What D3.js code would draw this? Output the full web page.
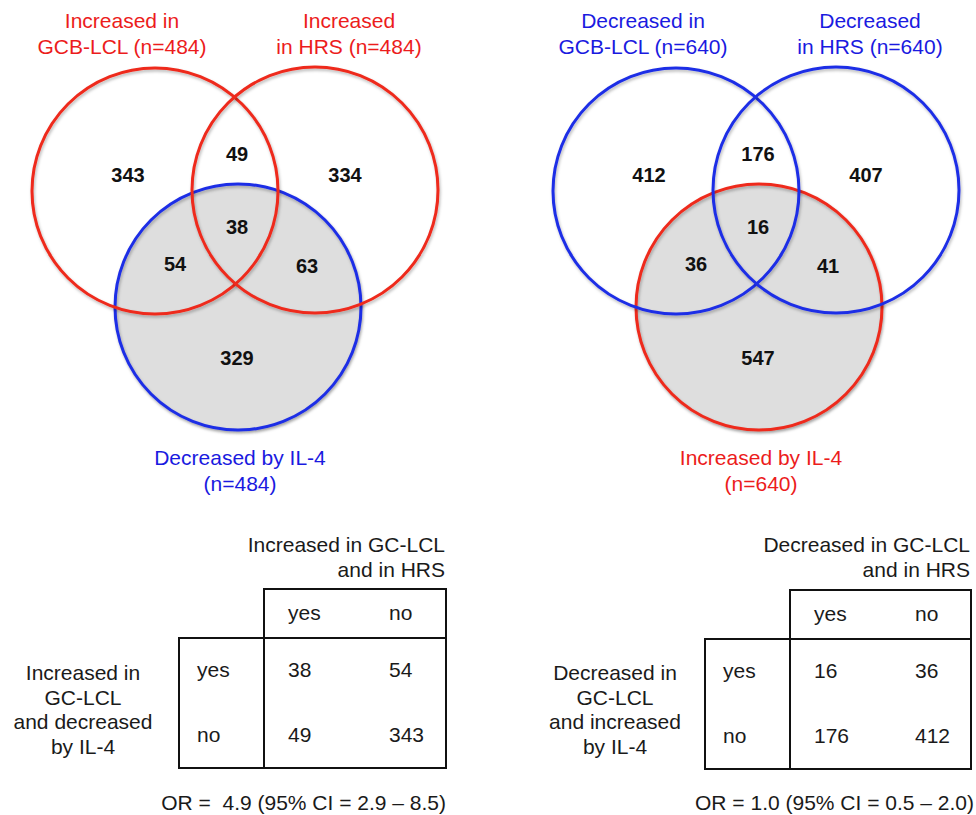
<!DOCTYPE html>
<html>
<head>
<meta charset="utf-8">
<script src="https://cdn.jsdelivr.net/npm/d3@7"></script>
<style>
  html, body { margin: 0; padding: 0; background: #fff; }
  svg { display: block; font-family: "Liberation Sans", Arial, Helvetica, sans-serif; }
</style>
</head>
<body>
<svg id="chart" width="976" height="815"></svg>
<script>
// ---------------- DATA ----------------
// Region order: A only, B only, C only, A∩B only, A∩C only, B∩C only, A∩B∩C
const regionKeys = ["A", "B", "C", "AB", "AC", "BC", "ABC"];
const venn1Counts = [343, 334, 329, 49, 54, 63, 38];
const venn2Counts = [412, 407, 547, 176, 36, 41, 16];

const venn1SetTitles = [["Increased in", "GCB-LCL (n=484)"], ["Increased", "in HRS (n=484)"], ["Decreased by IL-4", "(n=484)"]];
const venn2SetTitles = [["Decreased in", "GCB-LCL (n=640)"], ["Decreased", "in HRS (n=640)"], ["Increased by IL-4", "(n=640)"]];
const venn1SetColors = ["red", "red", "blue"];
const venn2SetColors = ["blue", "blue", "red"];

const tableLevels = ["yes", "no"];
const table1Values = [[38, 54], [49, 343]];
const table2Values = [[16, 36], [176, 412]];
const table1ColTitle = ["Increased in GC-LCL", "and in HRS"];
const table2ColTitle = ["Decreased in GC-LCL", "and in HRS"];
const table1RowTitle = ["Increased in", "GC-LCL", "and decreased", "by IL-4"];
const table2RowTitle = ["Decreased in", "GC-LCL", "and increased", "by IL-4"];
const orLabels = ["OR =  4.9 (95% CI = 2.9 \u2013 8.5)", "OR = 1.0 (95% CI = 0.5 \u2013 2.0)"];

// ---------------- STYLE / LAYOUT ----------------
const palette = { red: "#ee2a1c", blue: "#1f2ee6" };
const textPalette = { red: "#ec1c1c", blue: "#1a1ae0" };
const svg = d3.select("#chart");

const defs = svg.append("defs");
const f = defs.append("filter").attr("id", "shadow").attr("x", "-10%").attr("y", "-10%").attr("width", "120%").attr("height", "125%");
f.append("feDropShadow").attr("dx", 1).attr("dy", 2).attr("stdDeviation", 1.6).attr("flood-color", "#000").attr("flood-opacity", 0.28);

// Venn geometry (panel-relative), mapped via scales
const R = 123;
const centers = { A: [155, 191], B: [315, 190], C: [238, 307] };
const labelPos = { A: [128, 175], B: [345, 175], C: [237, 358], AB: [237, 154], AC: [175, 264], BC: [307, 266], ABC: [237, 227] };

function drawVenn(offsetX, counts, titles, colors) {
  const x = d3.scaleLinear().domain([0, 1]).range([offsetX, offsetX + 1]);
  const y = d3.scaleLinear().domain([0, 1]).range([0, 1]);
  const g = svg.append("g");

  const c = centers.C;
  g.append("circle").attr("cx", x(c[0])).attr("cy", y(c[1])).attr("r", R)
    .attr("fill", "#dedede").attr("filter", "url(#shadow)");

  const order = ["C", "A", "B"];
  const idx = { A: 0, B: 1, C: 2 };
  order.forEach(k => {
    const p = centers[k];
    g.append("circle").attr("cx", x(p[0])).attr("cy", y(p[1])).attr("r", R)
      .attr("fill", "none").attr("stroke", palette[colors[idx[k]]]).attr("stroke-width", 3)
      .attr("filter", "url(#shadow)");
  });

  g.selectAll("text.count").data(regionKeys.map((k, i) => ({ k, v: counts[i] })))
    .join("text").attr("class", "count")
    .attr("x", d => x(labelPos[d.k][0])).attr("y", d => y(labelPos[d.k][1]))
    .attr("dy", "0.36em").attr("text-anchor", "middle")
    .attr("font-size", 20).attr("font-weight", "bold").attr("fill", "#111")
    .text(d => d.v);

  const titlePos = [[122, 28], [349, 28], [240, 465]];
  titles.forEach((lines, i) => {
    const t = g.append("text").attr("text-anchor", "middle").attr("font-size", 21)
      .attr("fill", textPalette[colors[i]]);
    lines.forEach((ln, j) => {
      t.append("tspan").attr("x", x(titlePos[i][0])).attr("y", titlePos[i][1] + j * 25.5).text(ln);
    });
  });
}

drawVenn(0, venn1Counts, venn1SetTitles, venn1SetColors);
drawVenn(521, venn2Counts, venn2SetTitles, venn2SetColors);

function drawTable(opt) {
  const { left, mid, right, headTop, bodyTop, bottom, values, colTitle, rowTitle, rowTitleX, orLabel, orX } = opt;
  const g = svg.append("g");
  const colText = d3.scalePoint().domain(tableLevels).range([mid + 24, mid + 125]);
  const rowBand = d3.scaleBand().domain(tableLevels).range([bodyTop, bottom]);

  g.append("rect").attr("x", mid).attr("y", headTop).attr("width", right - mid).attr("height", bodyTop - headTop)
    .attr("fill", "none").attr("stroke", "#111").attr("stroke-width", 2);
  g.append("rect").attr("x", left).attr("y", bodyTop).attr("width", right - left).attr("height", bottom - bodyTop)
    .attr("fill", "none").attr("stroke", "#111").attr("stroke-width", 2);
  g.append("line").attr("x1", mid).attr("x2", mid).attr("y1", bodyTop).attr("y2", bottom)
    .attr("stroke", "#111").attr("stroke-width", 2);

  const txt = (sel) => sel.attr("font-size", 21).attr("fill", "#1a1a1a");

  const ct = txt(g.append("text")).attr("text-anchor", "end");
  colTitle.forEach((ln, j) => ct.append("tspan").attr("x", right - 1).attr("y", 552 + j * 25).text(ln));

  tableLevels.forEach(l => {
    txt(g.append("text")).attr("x", colText(l)).attr("y", headTop + (bodyTop - headTop) / 2).attr("dy", "0.3em").text(l);
  });
  tableLevels.forEach((r, i) => {
    const cy = rowBand(r) + rowBand.bandwidth() / 2;
    txt(g.append("text")).attr("x", left + 18).attr("y", cy).attr("dy", "0.3em").text(r);
    tableLevels.forEach((c, j) => {
      txt(g.append("text")).attr("x", colText(c)).attr("y", cy).attr("dy", "0.3em").text(values[i][j]);
    });
  });

  const rt = txt(g.append("text")).attr("text-anchor", "middle");
  rowTitle.forEach((ln, j) => rt.append("tspan").attr("x", rowTitleX).attr("y", 680 + j * 24.7).text(ln));

  txt(g.append("text")).attr("x", orX).attr("y", 810).attr("text-anchor", "end")
    .style("white-space", "pre").attr("xml:space", "preserve").text(orLabel);
}

drawTable({ left: 179, mid: 264, right: 446, headTop: 589, bodyTop: 638, bottom: 768,
  values: table1Values, colTitle: table1ColTitle, rowTitle: table1RowTitle, rowTitleX: 83, orLabel: orLabels[0], orX: 446 });
drawTable({ left: 705, mid: 790, right: 971, headTop: 590, bodyTop: 639, bottom: 769,
  values: table2Values, colTitle: table2ColTitle, rowTitle: table2RowTitle, rowTitleX: 615, orLabel: orLabels[1], orX: 974 });
</script>
</body>
</html>
